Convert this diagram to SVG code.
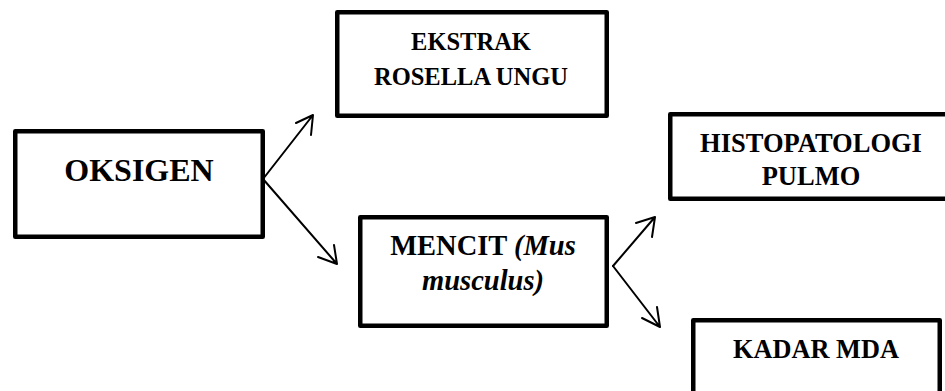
<svg xmlns="http://www.w3.org/2000/svg" width="945" height="391" viewBox="0 0 945 391">
<style>
.box{fill:#fff;stroke:#000;stroke-width:4.5;stroke-linejoin:round}
.t{font-family:"Liberation Serif","Times New Roman",serif;font-weight:bold;fill:#000;text-anchor:middle}
.i{font-style:italic}
.c{fill:none;stroke:#000;stroke-width:2;stroke-linecap:round;stroke-linejoin:round}
</style>
<rect width="945" height="391" fill="#fff"/>
<g id="connectors">
<path class="c" d="M263 179 L313 115 M296 123 L313 115 L311 135"/>
<path class="c" d="M263 179 L337 264 M318 257 L337 264 L334 245"/>
<path class="c" d="M613 266 L655 217 M636 223 L655 217 L652 237"/>
<path class="c" d="M613 266 L660 327 M642 318 L660 327 L657 307"/>
</g>
<g id="oksigen">
<rect class="box" x="15.25" y="131.25" width="247.5" height="105.5"/>
<text class="t" x="139" y="181" font-size="32">OKSIGEN</text>
</g>
<g id="ekstrak">
<rect class="box" x="337.25" y="12.25" width="269.5" height="103.5"/>
<text class="t" x="471" y="50" font-size="24.5">EKSTRAK</text>
<text class="t" x="471" y="85" font-size="24.5">ROSELLA UNGU</text>
</g>
<g id="mencit">
<rect class="box" x="360.25" y="217.25" width="246.5" height="108.5"/>
<text class="t" x="483" y="255" font-size="28.5">MENCIT <tspan class="i">(Mus</tspan></text>
<text class="t i" x="483" y="290" font-size="28.5">musculus)</text>
</g>
<g id="histopatologi">
<rect class="box" x="670.25" y="114.25" width="290" height="84.5"/>
<text class="t" x="811" y="152" font-size="26.5">HISTOPATOLOGI</text>
<text class="t" x="811" y="185" font-size="26.5">PULMO</text>
</g>
<g id="kadar">
<rect class="box" x="693.25" y="320.25" width="246.5" height="100"/>
<text class="t" x="816" y="358" font-size="26.3">KADAR MDA</text>
</g>
</svg>
